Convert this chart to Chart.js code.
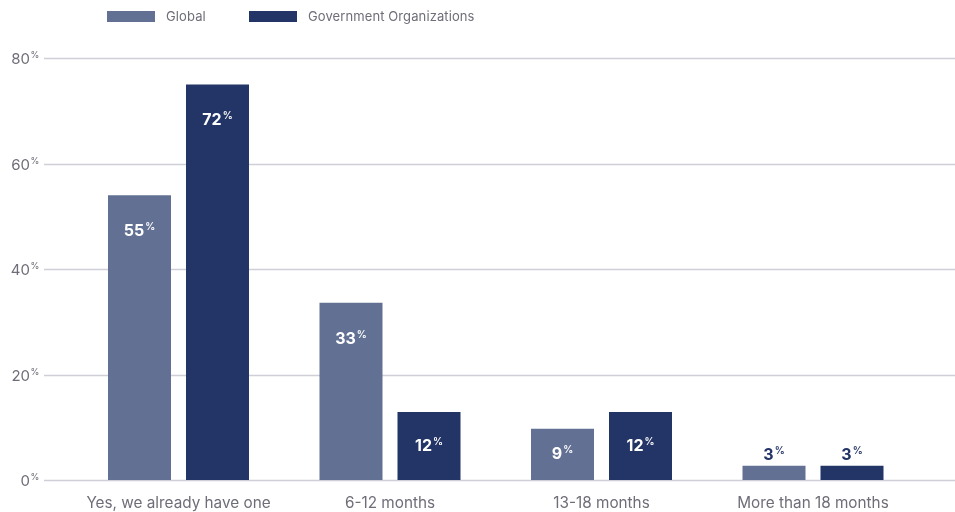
<!DOCTYPE html>
<html>
<head>
<meta charset="utf-8">
<script src="https://cdn.jsdelivr.net/npm/chart.js@4.4.1/dist/chart.umd.min.js"></script>
<style>
body{margin:0;background:#fff;font-family:Inter,"Noto Sans",sans-serif;}
.wrap{position:relative;width:955px;height:512px;}
.legend{position:absolute;top:0;left:0;width:955px;height:30px;}
.legend .box{position:absolute;top:11px;width:48px;height:11px;}
.legend .txt{position:absolute;top:8px;font-size:13px;line-height:17px;color:#6e6e78;letter-spacing:0.1px;}
</style>
</head>
<body>
<div class="wrap">
  <canvas id="myChart" width="955" height="512"></canvas>
  <div class="legend">
    <div class="box" style="left:107px;background:#627093"></div>
    <div class="txt" style="left:166px">Global</div>
    <div class="box" style="left:249px;background:#233466"></div>
    <div class="txt" style="left:308px">Government Organizations</div>
  </div>
</div>
<script>
const categories = ["Yes, we already have one", "6-12 months", "13-18 months", "More than 18 months"];
const seriesNames = ["Global", "Government Organizations"];
// bar heights as drawn in the picture
const globalValues = [54, 33.6, 9.7, 2.7];
const govValues = [75, 12.9, 12.9, 2.7];
// numbers printed on the bars
const globalLabels = [55, 33, 9, 3];
const govLabels = [72, 12, 12, 3];
const yTicks = [0, 20, 40, 60, 80];

const colors = ["#627093", "#233466"];
const FONT = "Inter, 'Noto Sans', sans-serif";

const drawPlugin = {
    id: "drawPlugin",
    beforeDatasetsDraw(chart) {
        const ctx = chart.ctx;
        const y = chart.scales.y;
        const x = chart.scales.x;
        ctx.save();
        yTicks.forEach(v => {
            const py = Math.round(y.getPixelForValue(v)) + 0.5;
            ctx.strokeStyle = "#cfcfd7";
            ctx.lineWidth = 1.3;
            ctx.beginPath();
            ctx.moveTo(44, py);
            ctx.lineTo(chart.width, py);
            ctx.stroke();

            ctx.fillStyle = "#6e6e78";
            ctx.font = "15px " + FONT;
            ctx.textAlign = "right";
            ctx.textBaseline = "middle";
            ctx.fillText(String(v), 30, py + 1);
            ctx.font = "9px " + FONT;
            ctx.textAlign = "left";
            ctx.fillText("%", 30.5, py - 3);
        });
        ctx.fillStyle = "#6e6e78";
        ctx.font = "15.3px " + FONT;
        ctx.textAlign = "center";
        ctx.textBaseline = "middle";
        categories.forEach((c, i) => {
            ctx.fillText(c, x.getPixelForValue(i), 503);
        });
        ctx.restore();
    },
    afterDatasetsDraw(chart) {
        const ctx = chart.ctx;
        const labelSets = [globalLabels, govLabels];
        ctx.save();
        chart.data.datasets.forEach((ds, d) => {
            const meta = chart.getDatasetMeta(d);
            meta.data.forEach((bar, i) => {
                const top = bar.y, bottom = bar.base;
                let cy, color;
                if (bottom - top < 30) {
                    cy = top - 11;
                    color = "#233466";
                } else {
                    cy = Math.min(top + 36, (top + bottom) / 2);
                    color = "#ffffff";
                }
                const num = String(labelSets[d][i]);
                ctx.font = "bold 16px " + FONT;
                const w = ctx.measureText(num).width;
                ctx.font = "600 10px " + FONT;
                const wp = ctx.measureText("%").width;
                const gap = 1;
                const startX = bar.x - (w + gap + wp) / 2;
                ctx.fillStyle = color;
                ctx.textAlign = "left";
                ctx.textBaseline = "middle";
                ctx.font = "bold 16px " + FONT;
                ctx.fillText(num, startX, cy);
                ctx.font = "600 10px " + FONT;
                ctx.fillText("%", startX + w + gap, cy - 4);
            });
        });
        ctx.restore();
    }
};

new Chart(document.getElementById("myChart").getContext("2d"), {
    type: "bar",
    data: {
        labels: categories,
        datasets: [
            { label: seriesNames[0], data: globalValues, backgroundColor: colors[0] },
            { label: seriesNames[1], data: govValues, backgroundColor: colors[1] }
        ]
    },
    options: {
        responsive: false,
        animation: false,
        categoryPercentage: 0.7376,
        barPercentage: 0.8077,
        layout: { padding: { left: 72.75, right: 36.25, top: 58, bottom: 32 } },
        plugins: { legend: { display: false }, tooltip: { enabled: false } },
        scales: {
            x: { display: false, offset: true },
            y: { display: false, min: 0, max: 80 }
        }
    },
    plugins: [drawPlugin]
});
</script>
</body>
</html>
